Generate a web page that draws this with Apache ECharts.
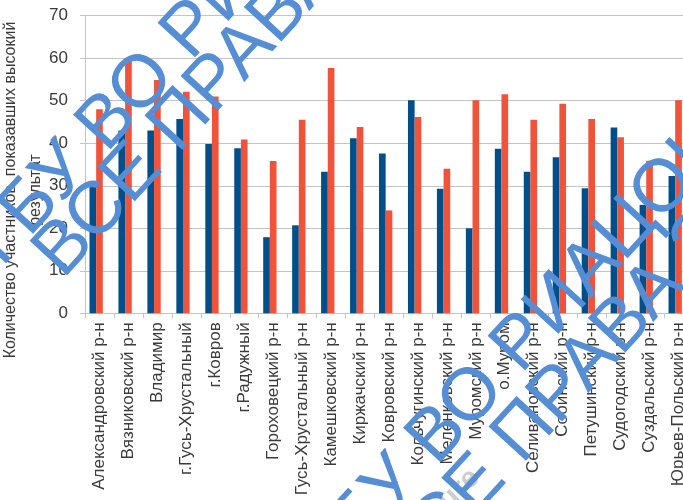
<!DOCTYPE html>
<html>
<head>
<meta charset="utf-8">
<script src="https://cdn.jsdelivr.net/npm/echarts@6/dist/echarts.min.js"></script>
<style>
  html, body { margin: 0; padding: 0; background: #fff; overflow: hidden; }
  #chart { width: 720px; height: 500px; }
</style>
</head>
<body>
<div id="chart"></div>
<script>
// Districts of the region
const districts = [
  'Александровский р-н', 'Вязниковский р-н', 'Владимир', 'г.Гусь-Хрустальный',
  'г.Ковров', 'г.Радужный', 'Гороховецкий р-н', 'Гусь-Хрустальный р-н',
  'Камешковский р-н', 'Киржачский р-н', 'Ковровский р-н', 'Кольчугинский р-н',
  'Меленковский р-н', 'Муромский р-н', 'о.Муром', 'Селивановский р-н',
  'Собинский р-н', 'Петушинский р-н', 'Судогодский р-н', 'Суздальский р-н',
  'Юрьев-Польский р-н'
];

// First group of results (dark blue bars)
const blueValues = [31, 43, 43, 45.7, 39.8, 38.8, 17.9, 20.7, 33.3, 41.2, 37.6,
  50.1, 29.3, 20, 38.7, 33.3, 36.7, 29.4, 43.7, 25.5, 32.3];

// Second group of results (red bars)
const redValues = [48, 59.4, 54.9, 52.1, 51, 40.9, 35.8, 45.5, 57.7, 43.8, 24.2,
  46.2, 34, 50.1, 51.5, 45.5, 49.3, 45.7, 41.4, 35.9, 50.1];

// Third slot of each category is left empty
const emptyValues = districts.map(() => null);

const yTicks = { min: 0, max: 70, step: 10 };

const axisTitle = 'Количество участников, показавших высокий\nрезультат';
const stampLine1 = 'ГБУ ВО РИАЦОКО';
const stampLine2 = 'ВСЕ ПРАВА ЗАЩИЩЕНЫ';

const chart = echarts.init(document.getElementById('chart'), null, { renderer: 'canvas' });

const textColor = '#3a3a3a';
const gridColor = '#c4c4c4';
const stampColor = '#558ed5';
const stampFont = '400 74px "Liberation Sans", Arial, sans-serif';
const ang = 47.5 * Math.PI / 180;

function stamp(x, y, text) {
  return {
    type: 'text', x: x, y: y, rotation: ang, z: 100,
    style: { text: text, font: stampFont, fill: stampColor, align: 'left', verticalAlign: 'middle' }
  };
}

chart.setOption({
  animation: false,
  textStyle: { fontFamily: '"Liberation Sans", Arial, sans-serif' },
  grid: { left: 85, right: 27, top: 15.7, bottom: 186.7, containLabel: false },
  xAxis: {
    type: 'category',
    data: districts,
    axisLine: { lineStyle: { color: gridColor } },
    axisTick: { show: true, length: 5, lineStyle: { color: gridColor } },
    axisLabel: { interval: 0, rotate: 90, fontSize: 17, color: textColor, margin: 9 }
  },
  yAxis: {
    type: 'value',
    min: yTicks.min, max: yTicks.max, interval: yTicks.step,
    axisLine: { show: true, lineStyle: { color: gridColor } },
    axisTick: { show: true, length: 5, lineStyle: { color: gridColor } },
    splitLine: { lineStyle: { color: gridColor, width: 1 } },
    axisLabel: { fontSize: 17, color: textColor, margin: 17 }
  },
  series: [
    { type: 'bar', data: blueValues, itemStyle: { color: '#004f8a' }, barGap: '0%', barCategoryGap: '31%' },
    { type: 'bar', data: redValues, itemStyle: { color: '#f0533a' } },
    { type: 'bar', data: emptyValues }
  ],
  graphic: [
    {
      type: 'text', x: 23, y: 190, rotation: Math.PI / 2,
      style: {
        text: axisTitle, font: '16px "Liberation Sans", Arial, sans-serif',
        fill: textColor, align: 'center', verticalAlign: 'middle', lineHeight: 25
      }
    },
    {
      type: 'text', x: 433, y: 495, rotation: 45 * Math.PI / 180, z: 90,
      style: { text: 'ure', font: 'bold 29px "Liberation Sans", Arial, sans-serif', fill: '#cdcdcd' }
    },
    stamp(-13, 254, stampLine1),
    stamp(48, 266, stampLine2),
    stamp(317, 567, stampLine1),
    stamp(392, 577, stampLine2)
  ]
});
</script>
</body>
</html>
